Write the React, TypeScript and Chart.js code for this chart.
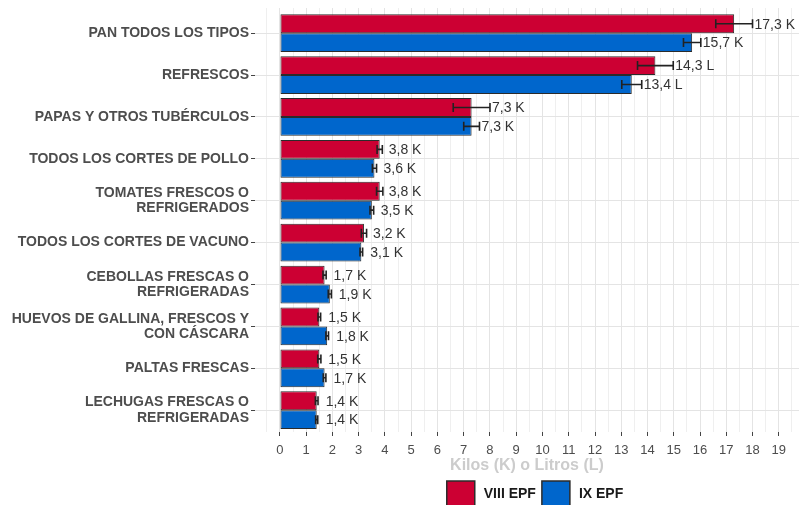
import React, { useEffect, useRef } from "react";
import { Chart, registerables } from "chart.js";

Chart.register(...registerables);

const categories: string[][] = [
  ["PAN TODOS LOS TIPOS"],
  ["REFRESCOS"],
  ["PAPAS Y OTROS TUBÉRCULOS"],
  ["TODOS LOS CORTES DE POLLO"],
  ["TOMATES FRESCOS O", "REFRIGERADOS"],
  ["TODOS LOS CORTES DE VACUNO"],
  ["CEBOLLAS FRESCAS O", "REFRIGERADAS"],
  ["HUEVOS DE GALLINA, FRESCOS Y", "CON CÁSCARA"],
  ["PALTAS FRESCAS"],
  ["LECHUGAS FRESCAS O", "REFRIGERADAS"],
];
const units = ["K", "L", "K", "K", "K", "K", "K", "K", "K", "K"];

const seriesNames = ["VIII EPF", "IX EPF"];
const viiiValues = [17.3, 14.3, 7.3, 3.8, 3.8, 3.2, 1.7, 1.5, 1.5, 1.4];
const ixValues = [15.7, 13.4, 7.3, 3.6, 3.5, 3.1, 1.9, 1.8, 1.7, 1.4];
const viiiErrors = [0.7, 0.68, 0.7, 0.1, 0.12, 0.1, 0.06, 0.05, 0.06, 0.05];
const ixErrors = [0.33, 0.38, 0.3, 0.08, 0.07, 0.05, 0.06, 0.05, 0.05, 0.04];

const xTickValues = [-0.5, 0, 0.5, 1, 1.5, 2, 2.5, 3, 3.5, 4, 4.5, 5, 5.5, 6, 6.5, 7, 7.5, 8, 8.5, 9, 9.5, 10, 10.5, 11, 11.5, 12, 12.5, 13, 13.5, 14, 14.5, 15, 15.5, 16, 16.5, 17, 17.5, 18, 18.5, 19, 19.5];

const FONT = "'Liberation Sans', Arial, sans-serif";
const RED = "#CC0033";
const BLUE = "#0066CC";

const allErrors = [viiiErrors, ixErrors];
const allValues = [viiiValues, ixValues];

const fmt = (v: number, u: string) => v.toFixed(1).replace(".", ",") + " " + u;

const errorLabelPlugin = {
  id: "errorLabels",
  afterDatasetsDraw(chart: any) {
    const ctx = chart.ctx;
    const xs = chart.scales.x;
    ctx.save();
    chart.data.datasets.forEach((ds: any, di: number) => {
      const meta = chart.getDatasetMeta(di);
      meta.data.forEach((bar: any, j: number) => {
        const v = allValues[di][j];
        const e = allErrors[di][j];
        const y = bar.y;
        const x1 = xs.getPixelForValue(v - e);
        const x2 = xs.getPixelForValue(v + e);
        ctx.strokeStyle = "#222";
        ctx.lineWidth = 1.6;
        ctx.beginPath();
        ctx.moveTo(x1, y);
        ctx.lineTo(x2, y);
        ctx.moveTo(x1, y - 4.5);
        ctx.lineTo(x1, y + 4.5);
        ctx.moveTo(x2, y - 4.5);
        ctx.lineTo(x2, y + 4.5);
        ctx.stroke();
        const tx = Math.max(x2 + 2, xs.getPixelForValue(v) + 9);
        ctx.fillStyle = "#333";
        ctx.font = `14px ${FONT}`;
        ctx.textAlign = "left";
        ctx.textBaseline = "middle";
        ctx.fillText(fmt(v, units[j]), tx, y + 1);
      });
    });
    ctx.restore();
  },
};

const legendPlugin = {
  id: "customLegend",
  afterDraw(chart: any) {
    const ctx = chart.ctx;
    ctx.save();
    ctx.font = `bold 14px ${FONT}`;
    const box = 28;
    const gap = 9;
    const itemGap = 6;
    const items = chart.data.datasets.map((ds: any) => ({
      label: ds.label,
      color: ds.backgroundColor,
      w: ctx.measureText(ds.label).width,
    }));
    let total = 0;
    items.forEach((it: any, i: number) => {
      total += box + gap + it.w + (i < items.length - 1 ? itemGap : 0);
    });
    const ca = chart.chartArea;
    let x = (ca.left + ca.right) / 2 + 8 - total / 2;
    const top = 481;
    items.forEach((it: any) => {
      ctx.fillStyle = it.color;
      ctx.fillRect(x, top, box, box);
      ctx.strokeStyle = "#2b2b2b";
      ctx.lineWidth = 1.5;
      ctx.strokeRect(x, top, box, box);
      ctx.fillStyle = "#1a1a1a";
      ctx.textAlign = "left";
      ctx.textBaseline = "middle";
      ctx.fillText(it.label, x + box + gap, 494);
      x += box + gap + it.w + itemGap;
    });
    ctx.restore();
  },
};

export default function App() {
  const ref = useRef<HTMLCanvasElement | null>(null);
  useEffect(() => {
    document.body.style.margin = "0";
    document.body.style.background = "#ffffff";
    const canvas = ref.current;
    if (!canvas) return;
    const chart = new Chart(canvas, {
      type: "bar",
      data: {
        datasets: [
          {
            label: seriesNames[0],
            data: viiiValues.map((v, i) => ({ x: v, y: i })),
            backgroundColor: RED,
            borderColor: "#2b2b2b",
            borderWidth: 1,
            borderSkipped: false,
            categoryPercentage: 0.9,
            barPercentage: 1,
          },
          {
            label: seriesNames[1],
            data: ixValues.map((v, i) => ({ x: v, y: i })),
            backgroundColor: BLUE,
            borderColor: "#2b2b2b",
            borderWidth: 1,
            borderSkipped: false,
            categoryPercentage: 0.9,
            barPercentage: 1,
          },
        ] as any,
      },
      options: {
        indexAxis: "y",
        responsive: false,
        animation: false,
        layout: { padding: { top: 8, right: 1, left: 0, bottom: 30 } },
        plugins: {
          legend: { display: false },
          tooltip: { enabled: false },
        },
        scales: {
          x: {
            type: "linear",
            position: "bottom",
            min: -0.95,
            max: 19.77,
            offset: false,
            afterBuildTicks: (scale: any) => {
              scale.ticks = xTickValues.map((v) => ({ value: v }));
            },
            afterFit: (scale: any) => {
              scale.height = 43;
              scale.paddingLeft = 0;
              scale.paddingRight = 0;
            },
            border: { display: false },
            grid: {
              offset: false,
              color: (c: any) =>
                c.tick && Number.isInteger(c.tick.value) ? "#e4e4e4" : "#efefef",
              lineWidth: 1,
              tickLength: 4,
              tickColor: (c: any) =>
                c.tick && Number.isInteger(c.tick.value) && c.tick.value >= 0 ? "#444" : "rgba(0,0,0,0)",
            },
            ticks: {
              autoSkip: false,
              maxRotation: 0,
              padding: 7,
              color: "#4d4d4d",
              font: { family: FONT, size: 13 },
              callback: (v: any) => (Number.isInteger(v) && v >= 0 ? String(v) : ""),
            },
            title: {
              display: true,
              text: "Kilos (K) o Litros (L)",
              color: "#cccccc",
              font: { family: FONT, size: 16, weight: "bold" },
              padding: { top: 0, bottom: 0 },
            },
          },
          y: {
            type: "linear",
            reverse: true,
            min: -0.6,
            max: 9.52,
            offset: false,
            afterBuildTicks: (scale: any) => {
              scale.ticks = categories.map((_, i) => ({ value: i }));
            },
            afterFit: (scale: any) => {
              scale.width = 255;
              scale.paddingTop = 0;
              scale.paddingBottom = 0;
            },
            border: { display: false },
            grid: {
              offset: false,
              color: "#e4e4e4",
              lineWidth: 1,
              tickLength: 4,
              tickColor: "#444",
            },
            ticks: {
              autoSkip: false,
              padding: 2,
              color: "#4d4d4d",
              font: { family: FONT, size: 14, weight: "bold", lineHeight: 1.1 },
              callback: (v: any) => {
                const c = categories[v as number];
                return c ? (c.length === 1 ? c[0] : c) : "";
              },
            },
          },
        },
      } as any,
      plugins: [errorLabelPlugin, legendPlugin],
    });
    return () => chart.destroy();
  }, []);
  return (
    <div style={{ width: 800, height: 505 }}>
      <canvas ref={ref} width={800} height={505} style={{ display: "block" }} />
    </div>
  );
}
